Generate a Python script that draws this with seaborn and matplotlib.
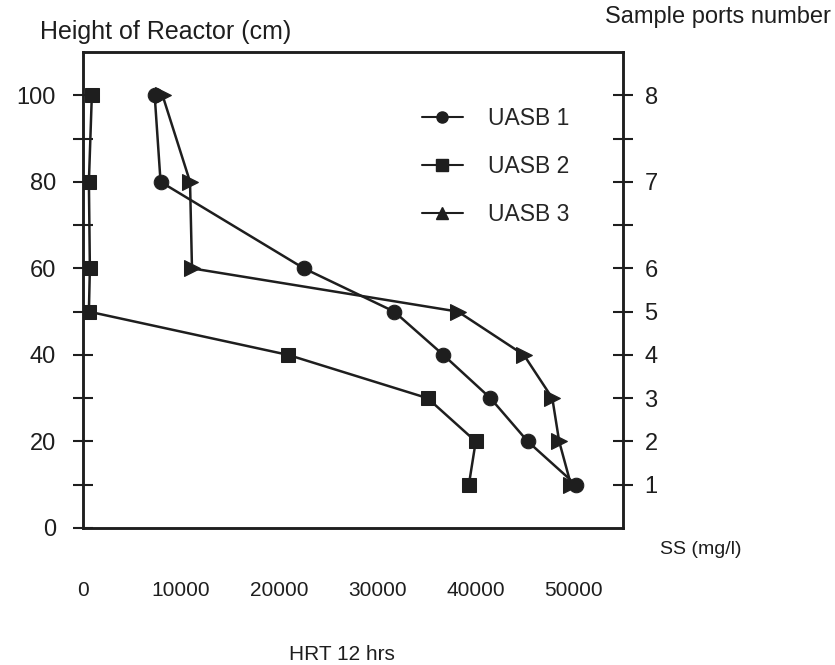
import matplotlib
matplotlib.use("Agg")
import matplotlib.pyplot as plt
from matplotlib import font_manager
from matplotlib.lines import Line2D
import seaborn as sns
import pandas as pd

# ---- data ----
heights = [100, 80, 60, 50, 40, 30, 20, 10]
uasb1 = [7300, 7900, 22500, 31700, 36700, 41500, 45300, 50200]
uasb2 = [900, 600, 700, 600, 20900, 35100, 40000, 39300]
uasb3 = [8100, 10900, 11100, 38200, 44900, 47800, 48500, 49700]
series_names = ["UASB 1", "UASB 2", "UASB 3"]
x_ticks = [0, 10000, 20000, 30000, 40000, 50000]
y_ticks = [0, 20, 40, 60, 80, 100]
port_pos = [10, 20, 30, 40, 50, 60, 70, 80, 90, 100]
port_labels = ["1", "2", "3", "4", "5", "6", "", "7", "", "8"]

sns.set_style("white")
names = {f.name for f in font_manager.fontManager.ttflist}
base = "Liberation Sans" if "Liberation Sans" in names else "DejaVu Sans"
plt.rcParams["font.family"] = [base, "DejaVu Sans"]

df = pd.DataFrame({
    "height": heights * 3,
    "ss": uasb1 + uasb2 + uasb3,
    "series": sum([[n] * len(heights) for n in series_names], []),
})

fig = plt.figure(figsize=(8.35, 6.65), dpi=100)
ax = fig.add_axes([83 / 835, 1 - 528 / 665, 540 / 835, 476 / 665])

ink = "#1e1e1e"
markers = {"UASB 1": "o", "UASB 2": "s", "UASB 3": ">"}
msize = {"UASB 1": 10.5, "UASB 2": 10, "UASB 3": 11.5}
for name in series_names:
    sub = df[df["series"] == name]
    sns.lineplot(data=sub, x="ss", y="height", sort=False, estimator=None,
                 ax=ax, color=ink, lw=1.8, marker=markers[name],
                 markersize=msize[name], markeredgecolor=ink, legend=False)

ax.set_xlim(0, 55000)
ax.set_ylim(0, 110)
ax.set_xticks(x_ticks)
ax.set_xticklabels([str(v) for v in x_ticks], fontsize=15)
ax.set_yticks(y_ticks)
ax.set_yticklabels([str(v) for v in y_ticks], fontsize=17)
ax.set_yticks([10, 30, 50, 70, 90], minor=True)
ax.set_xlabel("")
ax.set_ylabel("")
ax.tick_params(axis="x", direction="inout", length=15, width=1.5, pad=31, colors=ink)
ax.tick_params(axis="y", which="both", direction="inout", length=15, width=1.5, pad=12, colors=ink)
for s in ax.spines.values():
    s.set_visible(True)
    s.set_linewidth(1.8)
    s.set_color(ink)

ax2 = ax.twinx()
ax2.set_ylim(0, 110)
ax2.set_yticks(port_pos)
ax2.set_yticklabels(port_labels, fontsize=17)
ax2.tick_params(axis="y", direction="inout", length=15, width=1.5, pad=8, colors=ink)
for s in ax2.spines.values():
    s.set_linewidth(1.8)
    s.set_color(ink)

handles = [
    Line2D([], [], color=ink, lw=1.5, marker="o", markersize=8),
    Line2D([], [], color=ink, lw=1.5, marker="s", markersize=8),
    Line2D([], [], color=ink, lw=1.5, marker="^", markersize=8),
]
ax.legend(handles, series_names, loc="upper left", bbox_to_anchor=(0.61, 0.904),
          frameon=False, fontsize=16.5, handlelength=1.8, handletextpad=1.1,
          labelspacing=1.1, borderaxespad=0)

fig.text(40 / 835, 1 - 32 / 665, "Height of Reactor (cm)", fontsize=18,
         ha="left", va="center", color=ink)
fig.text(831 / 835, 1 - 17 / 665, "Sample ports number", fontsize=17,
         ha="right", va="center", color=ink)
fig.text(660 / 835, 1 - 550 / 665, "SS (mg/l)", fontsize=14,
         ha="left", va="center", color=ink)
fig.text(342 / 835, 1 - 654 / 665, "HRT 12 hrs", fontsize=15,
         ha="center", va="center", color=ink)

fig.savefig("out.png", dpi=100)
